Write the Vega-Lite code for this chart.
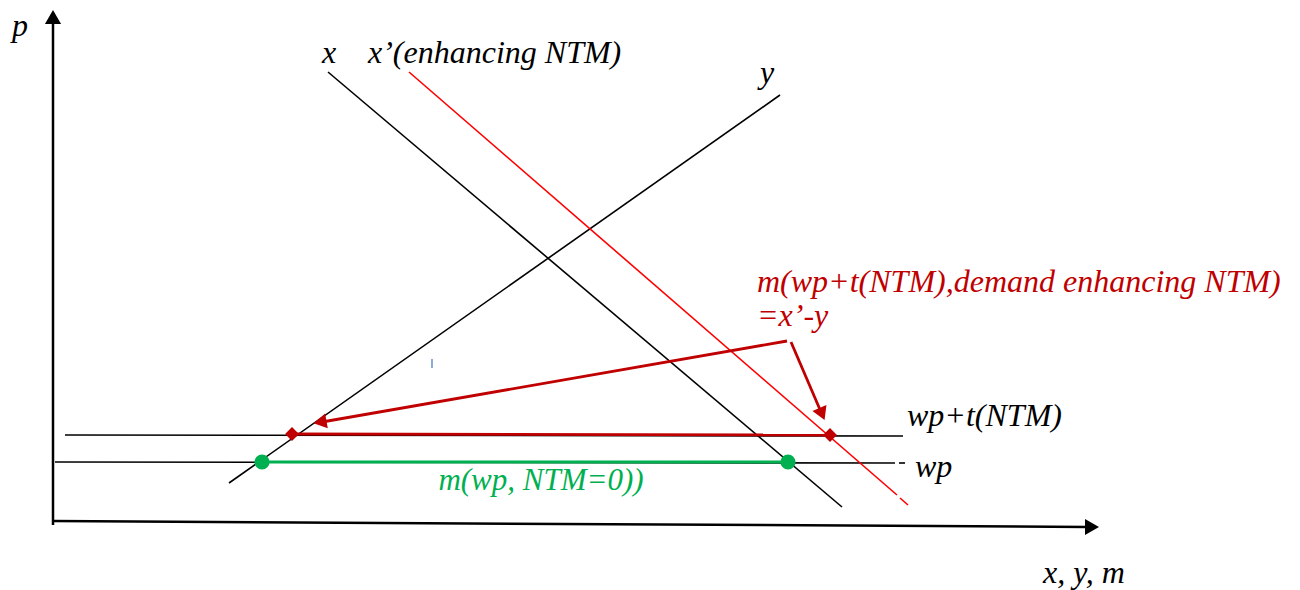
{
  "$schema": "https://vega.github.io/schema/vega-lite/v6.json",
  "width": 1300,
  "height": 590,
  "padding": 0,
  "autosize": {"type": "fit", "contains": "padding"},
  "background": "white",
  "config": {"view": {"stroke": null}},
  "datasets": {
    "axes": [
      {"x": 53, "y": 525, "x2": 53, "y2": 20},
      {"x": 53, "y": 521, "x2": 1088, "y2": 527}
    ],
    "blackLines": [
      {"name": "x", "x": 328, "y": 72, "x2": 842, "y2": 507},
      {"name": "y", "x": 229, "y": 483, "x2": 780, "y2": 95},
      {"name": "wp+t", "x": 65, "y": 435, "x2": 903, "y2": 436},
      {"name": "wp", "x": 55, "y": 462, "x2": 895, "y2": 463},
      {"name": "wp end", "x": 899, "y": 463, "x2": 905, "y2": 463}
    ],
    "redLines": [
      {"name": "x'", "x": 409, "y": 72, "x2": 897, "y2": 495},
      {"name": "x' end", "x": 900, "y": 498, "x2": 908, "y2": 505}
    ],
    "darkRed": [
      {"name": "m bar", "x": 292, "y": 434, "x2": 830, "y2": 435},
      {"name": "arrow1", "x": 787, "y": 341, "x2": 322, "y2": 422},
      {"name": "arrow2", "x": 791, "y": 342, "x2": 821, "y2": 412}
    ],
    "arrowHeads": [
      {"name": "arrow1", "x": 320, "y": 422, "dir": 260},
      {"name": "arrow2", "x": 822, "y": 414, "dir": 157}
    ],
    "axisHeads": [
      {"name": "p axis", "x": 53, "y": 17, "dir": 0},
      {"name": "x axis", "x": 1092, "y": 527, "dir": 90}
    ],
    "diamonds": [
      {"x": 292, "y": 434},
      {"x": 830, "y": 435}
    ],
    "green": [
      {"x": 262, "y": 462, "x2": 788, "y2": 462}
    ],
    "greenDots": [
      {"x": 262, "y": 462},
      {"x": 788, "y": 462}
    ],
    "blueTick": [
      {"x": 432, "y": 359, "x2": 432, "y2": 368}
    ],
    "blackTextL": [
      {"x": 12, "y": 36, "label": "p"},
      {"x": 322, "y": 63, "label": "x"},
      {"x": 368, "y": 63, "label": "x’(enhancing NTM)"},
      {"x": 760, "y": 83, "label": "y"},
      {"x": 907, "y": 426, "label": "wp+t(NTM)"},
      {"x": 915, "y": 477, "label": "wp"},
      {"x": 1043, "y": 583, "label": "x, y, m"}
    ],
    "redText": [
      {"x": 757, "y": 292, "label": "m(wp+t(NTM),demand enhancing NTM)"},
      {"x": 757, "y": 326, "label": "=x’-y"}
    ],
    "greenText": [
      {"x": 541, "y": 490, "label": "m(wp, NTM=0))"}
    ]
  },
  "encoding": {
    "x": {"field": "x", "type": "quantitative", "scale": {"domain": [0, 1300], "nice": false, "zero": false}, "axis": null},
    "y": {"field": "y", "type": "quantitative", "scale": {"domain": [0, 590], "nice": false, "zero": false, "reverse": true}, "axis": null}
  },
  "layer": [
    {
      "data": {"name": "axes"},
      "mark": {"type": "rule", "color": "black", "strokeWidth": 2.5},
      "encoding": {"x2": {"field": "x2"}, "y2": {"field": "y2"}}
    },
    {
      "data": {"name": "axisHeads"},
      "mark": {"type": "point", "shape": "triangle-up", "filled": true, "color": "black", "size": 260, "opacity": 1},
      "encoding": {"angle": {"field": "dir", "type": "quantitative", "scale": null}}
    },
    {
      "data": {"name": "blackLines"},
      "mark": {"type": "rule", "color": "black", "strokeWidth": 1.6},
      "encoding": {"x2": {"field": "x2"}, "y2": {"field": "y2"}}
    },
    {
      "data": {"name": "redLines"},
      "mark": {"type": "rule", "color": "#ff0000", "strokeWidth": 1.6},
      "encoding": {"x2": {"field": "x2"}, "y2": {"field": "y2"}}
    },
    {
      "data": {"name": "green"},
      "mark": {"type": "rule", "color": "#00b050", "strokeWidth": 3},
      "encoding": {"x2": {"field": "x2"}, "y2": {"field": "y2"}}
    },
    {
      "data": {"name": "greenDots"},
      "mark": {"type": "point", "shape": "circle", "filled": true, "color": "#00b050", "size": 230, "opacity": 1}
    },
    {
      "data": {"name": "darkRed"},
      "mark": {"type": "rule", "color": "#c00000", "strokeWidth": 2.8},
      "encoding": {"x2": {"field": "x2"}, "y2": {"field": "y2"}}
    },
    {
      "data": {"name": "arrowHeads"},
      "mark": {"type": "point", "shape": "triangle-up", "filled": true, "color": "#c00000", "size": 230, "opacity": 1},
      "encoding": {"angle": {"field": "dir", "type": "quantitative", "scale": null}}
    },
    {
      "data": {"name": "diamonds"},
      "mark": {"type": "point", "shape": "diamond", "filled": true, "color": "#c00000", "size": 190, "opacity": 1}
    },
    {
      "data": {"name": "blueTick"},
      "mark": {"type": "rule", "color": "#4472c4", "strokeWidth": 1.2},
      "encoding": {"x2": {"field": "x2"}, "y2": {"field": "y2"}}
    },
    {
      "data": {"name": "blackTextL"},
      "mark": {"type": "text", "align": "left", "baseline": "alphabetic", "font": "Liberation Serif", "fontStyle": "italic", "fontSize": 32, "color": "black"},
      "encoding": {"text": {"field": "label"}}
    },
    {
      "data": {"name": "redText"},
      "mark": {"type": "text", "align": "left", "baseline": "alphabetic", "font": "Liberation Serif", "fontStyle": "italic", "fontSize": 32, "color": "#c00000"},
      "encoding": {"text": {"field": "label"}}
    },
    {
      "data": {"name": "greenText"},
      "mark": {"type": "text", "align": "center", "baseline": "alphabetic", "font": "Liberation Serif", "fontStyle": "italic", "fontSize": 31, "color": "#00b050"},
      "encoding": {"text": {"field": "label"}}
    }
  ]
}
